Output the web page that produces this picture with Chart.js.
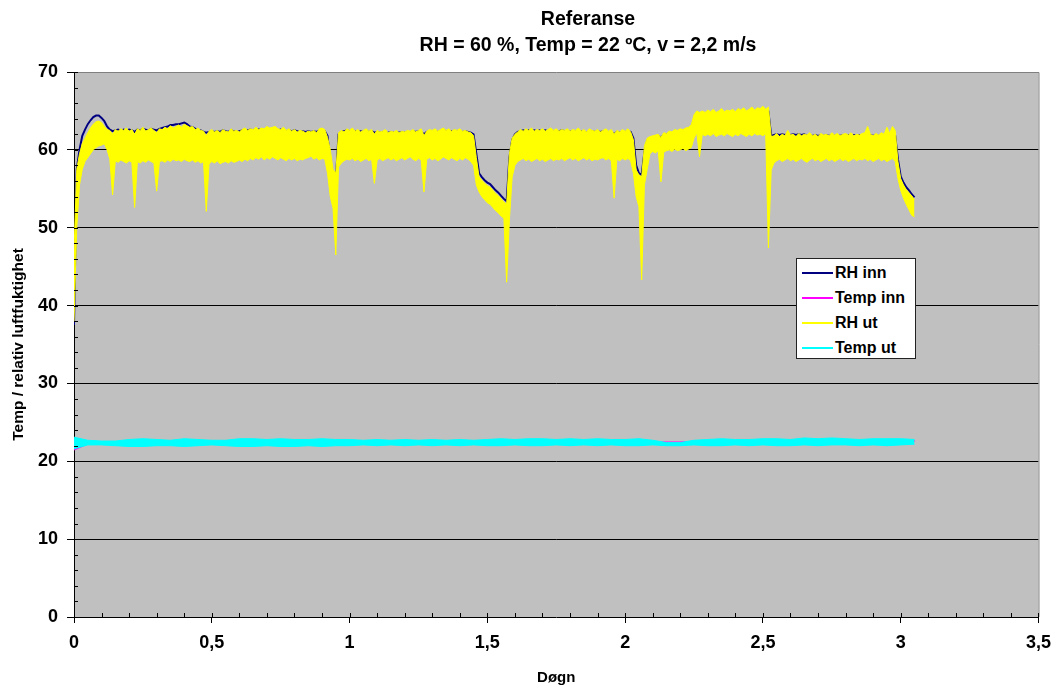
<!DOCTYPE html>
<html>
<head>
<meta charset="utf-8">
<script src="https://cdn.jsdelivr.net/npm/chart.js@4.4.1/dist/chart.umd.min.js"></script>
<style>
  body { margin: 0; background: #fff; }
  #wrap { position: relative; width: 1060px; height: 689px; font-family: Arial, "Liberation Sans", sans-serif; }
  #title { position: absolute; left: 388px; top: 5px; width: 400px; text-align: center; font-weight: bold; font-size: 19.5px; line-height: 26px; color: #000; }
  #legend { position: absolute; left: 796px; top: 258px; width: 118px; height: 99px; background: #fff; border: 1px solid #222; }
  #legend .row { position: absolute; left: 0; height: 20px; font-weight: bold; font-size: 16px; line-height: 20px; white-space: nowrap; }
  #legend .swatch { position: absolute; left: 5px; top: 9px; width: 31px; height: 2px; }
  #legend .lbl { position: absolute; left: 38px; top: 0; }
</style>
</head>
<body>
<div id="wrap">
  <canvas id="chart" width="1060" height="689"></canvas>
  <div id="title">Referanse<br>RH = 60 %, Temp = 22 ºC, v = 2,2 m/s</div>
  <div id="legend"></div>
</div>
<script>
// RH series read every 0.01 døgn (0 .. 3.05), band top / band bottom
const rhStep = 0.01;
const rhUtHi = [
  47, 57.5, 59.5, 60.8, 61.5, 62.2, 62.8, 63.3, 63.6, 63.7,
  63.5, 63.0, 62.6, 62.5, 62.0, 62.6, 62.4, 62.7, 62.5, 62.8,
  62.4, 62.6, 62.0, 62.7, 62.5, 62.9, 62.4, 62.6, 62.8, 62.5,
  62.2, 62.7, 62.6, 62.9, 62.7, 63.1, 62.8, 63.0, 63.2, 62.9,
  63.3, 63.1, 62.9, 63.0, 62.6, 62.8, 62.5, 62.4, 61.8, 62.4,
  62.6, 62.3, 62.5, 62.2, 62.6, 62.4, 62.3, 62.7, 62.4, 62.5,
  62.3, 62.6, 62.8, 62.5, 62.7, 62.6, 62.9, 62.6, 62.8, 62.7,
  63.0, 62.8, 62.9, 63.0, 62.7, 62.6, 62.9, 62.5, 62.7, 62.4,
  62.6, 62.3, 62.5, 62.4, 62.2, 62.4, 62.3, 62.5, 62.2, 62.7,
  62.8, 62.6, 61.6, 60.0, 57.5, 57.0, 62.2, 62.5, 62.3, 62.7,
  62.5, 62.8, 62.4, 62.6, 62.3, 62.5, 62.7, 62.4, 62.6, 62.0,
  62.5, 62.3, 62.4, 62.6, 62.2, 62.4, 62.3, 62.5, 62.2, 62.4,
  62.3, 62.5, 62.4, 62.6, 62.3, 62.5, 62.7, 61.8, 62.4, 62.6,
  62.5, 62.7, 62.4, 62.6, 62.8, 62.5, 62.7, 62.4, 62.6, 62.5,
  62.7, 62.4, 62.5, 62.3, 62.2, 61.8, 59.0, 56.5, 56.1, 55.7,
  55.4, 55.2, 54.8, 54.4, 54.1, 53.7, 53.3, 53.0, 59.5, 61.5,
  62.0, 62.3, 62.6, 62.4, 62.7, 62.5, 62.8, 62.4, 62.6, 62.5,
  62.7, 62.4, 62.6, 62.8, 62.5, 62.7, 62.4, 62.6, 62.5, 62.7,
  62.4, 62.6, 62.5, 62.8, 62.4, 62.6, 62.3, 62.7, 62.5, 62.4,
  62.6, 62.3, 62.5, 62.7, 62.4, 62.6, 62.0, 62.5, 62.3, 62.6,
  62.4, 62.7, 62.3, 61.3, 57.4, 56.8, 56.5, 60.5, 61.5, 61.7,
  61.8, 61.9, 62.0, 61.6, 62.2, 62.1, 62.4, 62.3, 62.6, 62.5,
  62.7, 62.6, 62.8, 62.9, 63.2, 64.5, 65.0, 64.8, 65.0, 64.8,
  65.1, 64.9, 65.2, 64.8, 65.0, 65.3, 64.9, 65.1, 65.0, 65.2,
  64.9, 65.3, 65.1, 65.4, 65.0, 65.2, 65.5, 65.1, 65.4, 65.3,
  65.6, 65.2, 65.5, 61.7, 61.8, 62.1, 61.7, 62.0, 61.8, 62.5,
  61.9, 62.0, 61.7, 62.1, 61.8, 62.0, 61.9, 62.2, 61.8, 62.0,
  61.7, 62.1, 61.9, 62.0, 61.8, 62.2, 61.9, 62.1, 61.8, 62.0,
  62.1, 61.9, 62.2, 61.8, 62.0, 61.9, 62.1, 62.2, 63.0, 62.0,
  61.8, 62.1, 61.9, 62.2, 62.0, 62.9, 62.1, 63.0, 62.5, 58.5,
  56.3, 55.5, 54.9, 54.5, 54.1, 53.6
];
const rhUtLo = [
  38, 50, 55.5, 57.5, 58.5, 59.0, 59.5, 60.0, 60.3, 60.5,
  60.6, 60.8, 60.0, 58.8, 54.2, 58.6, 58.4, 58.7, 58.5, 58.3,
  58.6, 58.4, 52.6, 58.5, 58.3, 58.6, 58.4, 58.7, 58.5, 58.3,
  54.7, 58.5, 58.6, 58.4, 58.7, 58.5, 58.8, 58.6, 58.7, 58.5,
  58.8, 58.6, 58.5, 58.7, 58.4, 58.6, 58.3, 58.5, 52.1, 58.2,
  58.5, 58.3, 58.6, 58.2, 58.4, 58.5, 58.3, 58.6, 58.4, 58.5,
  58.7, 58.5, 58.8, 58.6, 58.9, 58.7, 59.0, 58.8, 59.1, 58.7,
  59.0, 58.8, 59.1, 58.9, 58.7, 59.0, 58.8, 58.6, 58.9, 58.7,
  58.9, 58.6, 58.8, 58.7, 58.9, 59.0, 59.2, 58.8, 59.0, 58.7,
  58.9, 58.8, 57.0, 54.0, 52.5, 46.5, 57.8, 58.3, 58.6, 58.8,
  58.7, 58.9, 58.6, 58.8, 58.5, 58.7, 58.9, 58.6, 58.8, 55.7,
  58.7, 58.9, 58.6, 58.8, 59.0, 58.7, 58.9, 58.6, 58.8, 59.0,
  58.7, 58.9, 59.1, 58.8, 58.6, 58.9, 58.7, 54.6, 58.8, 59.0,
  58.7, 58.9, 58.6, 58.8, 59.1, 58.9, 58.7, 59.0, 58.8, 58.6,
  58.9, 58.7, 59.0, 58.8, 58.5, 58.0, 55.5, 54.6, 54.0, 53.6,
  53.2, 53.0, 52.6, 52.2, 51.9, 51.5, 51.2, 43.0, 51.0, 56.5,
  58.0, 58.5, 58.7, 58.9, 58.6, 58.8, 58.5, 58.7, 58.9, 58.6,
  58.8, 58.5, 58.7, 58.9, 58.6, 58.8, 58.7, 58.9, 58.6, 58.8,
  59.0, 58.7, 58.9, 58.6, 58.8, 59.0, 58.7, 58.9, 58.6, 58.8,
  58.7, 58.9, 59.0, 58.7, 58.9, 58.6, 53.8, 58.8, 58.6, 58.9,
  58.7, 58.9, 58.6, 57.0, 54.0, 52.7, 43.3, 55.5, 57.5, 59.5,
  59.8, 59.6, 59.9, 55.9, 59.7, 59.9, 60.0, 59.8, 60.1, 59.9,
  60.0, 60.2, 59.9, 60.1, 60.3, 61.5, 62.2, 59.1, 62.0, 61.8,
  62.0, 61.8, 62.1, 61.7, 61.9, 62.0, 61.8, 62.1, 61.9, 61.7,
  62.0, 61.8, 62.1, 61.9, 61.7, 62.0, 61.8, 62.1, 61.9, 62.0,
  61.8, 62.1, 47.4, 57.4, 58.3, 58.6, 58.8, 58.5, 58.7, 58.9,
  58.6, 58.8, 58.5, 58.7, 58.9, 58.6, 58.4, 58.7, 58.9, 58.6,
  58.8, 58.5, 58.7, 58.9, 58.6, 58.8, 58.5, 58.7, 58.9, 58.6,
  58.8, 58.5, 58.7, 58.9, 58.6, 58.8, 58.7, 58.9, 58.6, 58.8,
  58.5, 58.7, 58.9, 58.6, 58.8, 58.5, 58.7, 58.9, 58.5, 56.3,
  54.8, 53.8, 53.0, 52.3, 51.6, 51.4
];
const rhInn = [
  37.5, 57.5, 60.0, 61.8, 62.6, 63.3, 63.8, 64.2, 64.4, 64.4,
  64.1, 63.7, 63.0, 62.6, 62.4, 62.5, 62.6, 62.4, 62.6, 62.5,
  62.6, 62.5, 62.3, 62.6, 62.5, 62.7, 62.6, 62.5, 62.7, 62.6,
  62.5, 62.7, 62.8, 62.9, 63.0, 63.2, 63.2, 63.3, 63.3, 63.4,
  63.5, 63.3, 63.0, 62.9, 62.7, 62.6, 62.5, 62.3, 62.2, 62.3,
  62.4, 62.3, 62.4, 62.3, 62.5, 62.4, 62.3, 62.5, 62.4, 62.3,
  62.4, 62.5, 62.6, 62.5, 62.6, 62.5, 62.7, 62.6, 62.6, 62.5,
  62.7, 62.6, 62.6, 62.7, 62.5, 62.6, 62.5, 62.4, 62.5, 62.4,
  62.5, 62.4, 62.3, 62.4, 62.3, 62.4, 62.3, 62.4, 62.3, 62.5,
  62.5, 62.4, 61.8, 58.5, 56.5, 56.0, 62.0, 62.3, 62.4, 62.5,
  62.4, 62.5, 62.4, 62.3, 62.4, 62.3, 62.4, 62.3, 62.4, 62.2,
  62.3, 62.2, 62.3, 62.2, 62.2, 62.3, 62.2, 62.3, 62.2, 62.3,
  62.2, 62.3, 62.2, 62.4, 62.3, 62.4, 62.3, 62.0, 62.3, 62.4,
  62.3, 62.4, 62.3, 62.4, 62.5, 62.4, 62.3, 62.4, 62.3, 62.4,
  62.4, 62.3, 62.4, 62.3, 62.2, 62.0, 59.5, 57.0, 56.5, 56.1,
  55.8, 55.6, 55.2, 54.8, 54.5, 54.1, 53.7, 53.4, 59.0, 61.3,
  62.0, 62.3, 62.4, 62.5, 62.4, 62.5, 62.4, 62.5, 62.4, 62.5,
  62.4, 62.5, 62.4, 62.5, 62.4, 62.3, 62.4, 62.5, 62.4, 62.3,
  62.4, 62.3, 62.4, 62.3, 62.4, 62.3, 62.2, 62.3, 62.4, 62.3,
  62.4, 62.3, 62.4, 62.3, 62.2, 62.3, 62.0, 62.3, 62.2, 62.3,
  62.3, 62.4, 62.3, 61.5, 58.0, 57.0, 56.8, 59.8, 61.2, 61.5,
  61.6, 61.7, 61.8, 61.6, 61.9, 62.0, 62.1, 62.1, 62.2, 62.3,
  62.4, 62.5, 62.6, 62.7, 62.9, 63.8, 64.2, 64.3, 64.3, 64.3,
  64.3, 64.4, 64.4, 64.3, 64.4, 64.5, 64.4, 64.5, 64.5, 64.6,
  64.5, 64.6, 64.6, 64.7, 64.6, 64.7, 64.8, 64.7, 64.8, 64.8,
  64.9, 64.8, 64.9, 61.8, 61.9, 62.0, 61.9, 62.0, 61.9, 62.0,
  61.9, 62.0, 61.9, 62.0, 61.9, 62.0, 61.8, 61.9, 61.8, 61.9,
  61.8, 61.9, 61.8, 61.9, 61.8, 61.9, 61.8, 61.9, 61.8, 61.9,
  61.8, 61.9, 61.8, 61.9, 61.8, 61.9, 61.8, 61.9, 61.8, 61.9,
  61.8, 61.9, 61.8, 61.9, 61.8, 61.9, 61.8, 61.9, 61.8, 58.8,
  56.6, 55.8, 55.2, 54.8, 54.3, 53.9
];

// temperature series read every 0.05 døgn (0 .. 3.05)
const tStep = 0.05;
const tempUtHi = [
  23.1, 22.7, 22.6, 22.6, 22.8, 22.9, 22.8, 22.7, 22.9, 22.8,
  22.7, 22.7, 22.9, 22.9, 22.8, 22.9, 22.8, 22.8, 22.9, 22.8,
  22.8, 22.7, 22.8, 22.7, 22.8, 22.7, 22.8, 22.7, 22.8, 22.7,
  22.8, 22.9, 22.8, 22.9, 22.9, 22.8, 22.9, 22.8, 22.9, 22.8,
  22.8, 22.9, 22.7, 22.4, 22.4, 22.7, 22.8, 22.9, 22.8, 22.8,
  22.9, 22.9, 22.8, 23.0, 22.9, 23.0, 22.9, 22.8, 22.9, 22.9,
  22.9, 22.8
];
const tempUtLo = [
  21.6, 22.1, 22.1, 22.0, 21.9, 21.9, 22.0, 22.0, 21.9, 22.0,
  22.1, 22.0, 21.9, 21.9, 22.0, 21.9, 21.9, 22.0, 21.9, 22.0,
  22.0, 22.1, 22.0, 22.1, 22.0, 22.1, 22.0, 22.1, 22.0, 22.1,
  22.0, 22.0, 22.1, 22.0, 22.0, 22.1, 22.0, 22.1, 22.0, 22.1,
  22.0, 22.0, 22.1, 22.0, 22.0, 22.1, 22.0, 22.0, 22.1, 22.0,
  22.1, 22.0, 22.0, 22.1, 22.0, 22.1, 22.1, 22.0, 22.1, 22.0,
  22.1, 22.2
];
const tempInn = [
  21.5, 22.3, 22.4, 22.4, 22.5, 22.5, 22.4, 22.5, 22.5, 22.4,
  22.4, 22.5, 22.5, 22.5, 22.4, 22.5, 22.4, 22.4, 22.5, 22.4,
  22.4, 22.4, 22.5, 22.4, 22.4, 22.4, 22.5, 22.4, 22.5, 22.4,
  22.4, 22.5, 22.5, 22.5, 22.5, 22.4, 22.5, 22.5, 22.5, 22.4,
  22.5, 22.5, 22.4, 22.4, 22.4, 22.5, 22.5, 22.5, 22.5, 22.5,
  22.6, 22.5, 22.6, 22.6, 22.6, 22.6, 22.5, 22.6, 22.6, 22.6,
  22.6, 22.6
];

const xTicks = { min: 0, max: 3.5, major: 0.5, minor: 0.1 };
const yTicks = { min: 0, max: 70, major: 10, minor: 2 };

function pts(arr, dx) {
  return arr.map((v, i) => ({ x: Math.round(i * dx * 1000) / 1000, y: v }));
}

const isMajorX = v => Math.abs(v / xTicks.major - Math.round(v / xTicks.major)) < 1e-6;
const isMajorY = v => Math.abs(v / yTicks.major - Math.round(v / yTicks.major)) < 1e-6;

const plotFrame = {
  id: 'plotFrame',
  beforeDraw(chart) {
    const { ctx, chartArea: a } = chart;
    ctx.save();
    ctx.fillStyle = '#c0c0c0';
    ctx.fillRect(a.left, a.top, a.right - a.left, a.bottom - a.top);
    ctx.restore();
  },
  afterDraw(chart) {
    const { ctx, chartArea: a, scales } = chart;
    ctx.save();
    ctx.strokeStyle = '#808080';
    ctx.lineWidth = 1;
    ctx.beginPath();
    ctx.moveTo(a.left, a.top + 0.5);
    ctx.lineTo(a.right + 0.5, a.top + 0.5);
    ctx.lineTo(a.right + 0.5, a.bottom);
    ctx.stroke();
    // short inside ticks
    ctx.strokeStyle = '#000';
    ctx.beginPath();
    scales.x.ticks.forEach(t => {
      const px = Math.round(scales.x.getPixelForValue(t.value)) + 0.5;
      ctx.moveTo(px, a.bottom);
      ctx.lineTo(px, a.bottom - 4);
    });
    scales.y.ticks.forEach(t => {
      const py = Math.round(scales.y.getPixelForValue(t.value)) + 0.5;
      ctx.moveTo(a.left, py);
      ctx.lineTo(a.left + 4, py);
    });
    ctx.stroke();
    ctx.restore();
  }
};

const lineBase = { pointRadius: 0, tension: 0, borderWidth: 1 };

const data = {
  datasets: [
    { ...lineBase, label: 'RH inn', data: pts(rhInn, rhStep), borderColor: '#000080', backgroundColor: '#000080', borderWidth: 2, order: 4 },
    { ...lineBase, label: 'Temp inn', data: pts(tempInn, tStep), borderColor: '#ff00ff', backgroundColor: '#ff00ff', borderWidth: 2, order: 3 },
    { ...lineBase, label: 'RH ut', data: pts(rhUtHi, rhStep), borderColor: '#ffff00', backgroundColor: '#ffff00', fill: 3, order: 2 },
    { ...lineBase, label: '', data: pts(rhUtLo, rhStep), borderColor: '#ffff00', backgroundColor: '#ffff00', order: 2, helper: true },
    { ...lineBase, label: 'Temp ut', data: pts(tempUtHi, tStep), borderColor: '#00ffff', backgroundColor: '#00ffff', fill: 5, order: 1 },
    { ...lineBase, label: '', data: pts(tempUtLo, tStep), borderColor: '#00ffff', backgroundColor: '#00ffff', order: 1, helper: true }
  ]
};

const chart = new Chart(document.getElementById('chart'), {
  type: 'line',
  data: data,
  options: {
    responsive: false,
    animation: false,
    layout: { padding: { top: 72, right: 19, bottom: 0, left: 0 } },
    plugins: {
      legend: { display: false },
      tooltip: { enabled: false }
    },
    scales: {
      x: {
        type: 'linear',
        min: xTicks.min,
        max: xTicks.max,
        afterFit: s => { s.height = 72; },
        border: { color: '#000', width: 1 },
        grid: {
          drawOnChartArea: false,
          tickLength: 6,
          tickColor: c => isMajorX(c.tick.value) ? '#000' : 'rgba(0,0,0,0)'
        },
        ticks: {
          stepSize: xTicks.minor,
          autoSkip: false,
          maxRotation: 0,
          padding: 9,
          color: '#000',
          font: { family: 'Arial, "Liberation Sans", sans-serif', size: 18, weight: 'bold' },
          callback: v => isMajorX(v) ? String(Math.round(v * 10) / 10).replace('.', ',') : ''
        },
        title: {
          display: true,
          text: 'Døgn',
          color: '#000',
          padding: 2,
          font: { family: 'Arial, "Liberation Sans", sans-serif', size: 15, weight: 'bold' }
        }
      },
      y: {
        min: yTicks.min,
        max: yTicks.max,
        afterFit: s => { s.width = 74; },
        border: { color: '#000', width: 1 },
        grid: {
          color: c => (isMajorY(c.tick.value) && c.tick.value > yTicks.min && c.tick.value < yTicks.max) ? '#000' : 'rgba(0,0,0,0)',
          tickLength: 7,
          tickColor: c => isMajorY(c.tick.value) ? '#000' : 'rgba(0,0,0,0)'
        },
        ticks: {
          stepSize: yTicks.minor,
          autoSkip: false,
          padding: 9,
          color: '#000',
          font: { family: 'Arial, "Liberation Sans", sans-serif', size: 18, weight: 'bold' },
          callback: v => isMajorY(v) ? v : ''
        },
        title: {
          display: true,
          text: 'Temp / relativ luftfuktighet',
          color: '#000',
          padding: 9,
          font: { family: 'Arial, "Liberation Sans", sans-serif', size: 15.5, weight: 'bold' }
        }
      }
    }
  },
  plugins: [plotFrame]
});

// legend box inside the plot, built from the datasets
const legend = document.getElementById('legend');
chart.data.datasets.filter(d => !d.helper).forEach((d, i) => {
  const row = document.createElement('div');
  row.className = 'row';
  row.style.top = (4 + i * 25) + 'px';
  row.innerHTML = '<span class="swatch" style="background:' + d.borderColor + '"></span><span class="lbl">' + d.label + '</span>';
  legend.appendChild(row);
});
</script>
</body>
</html>
